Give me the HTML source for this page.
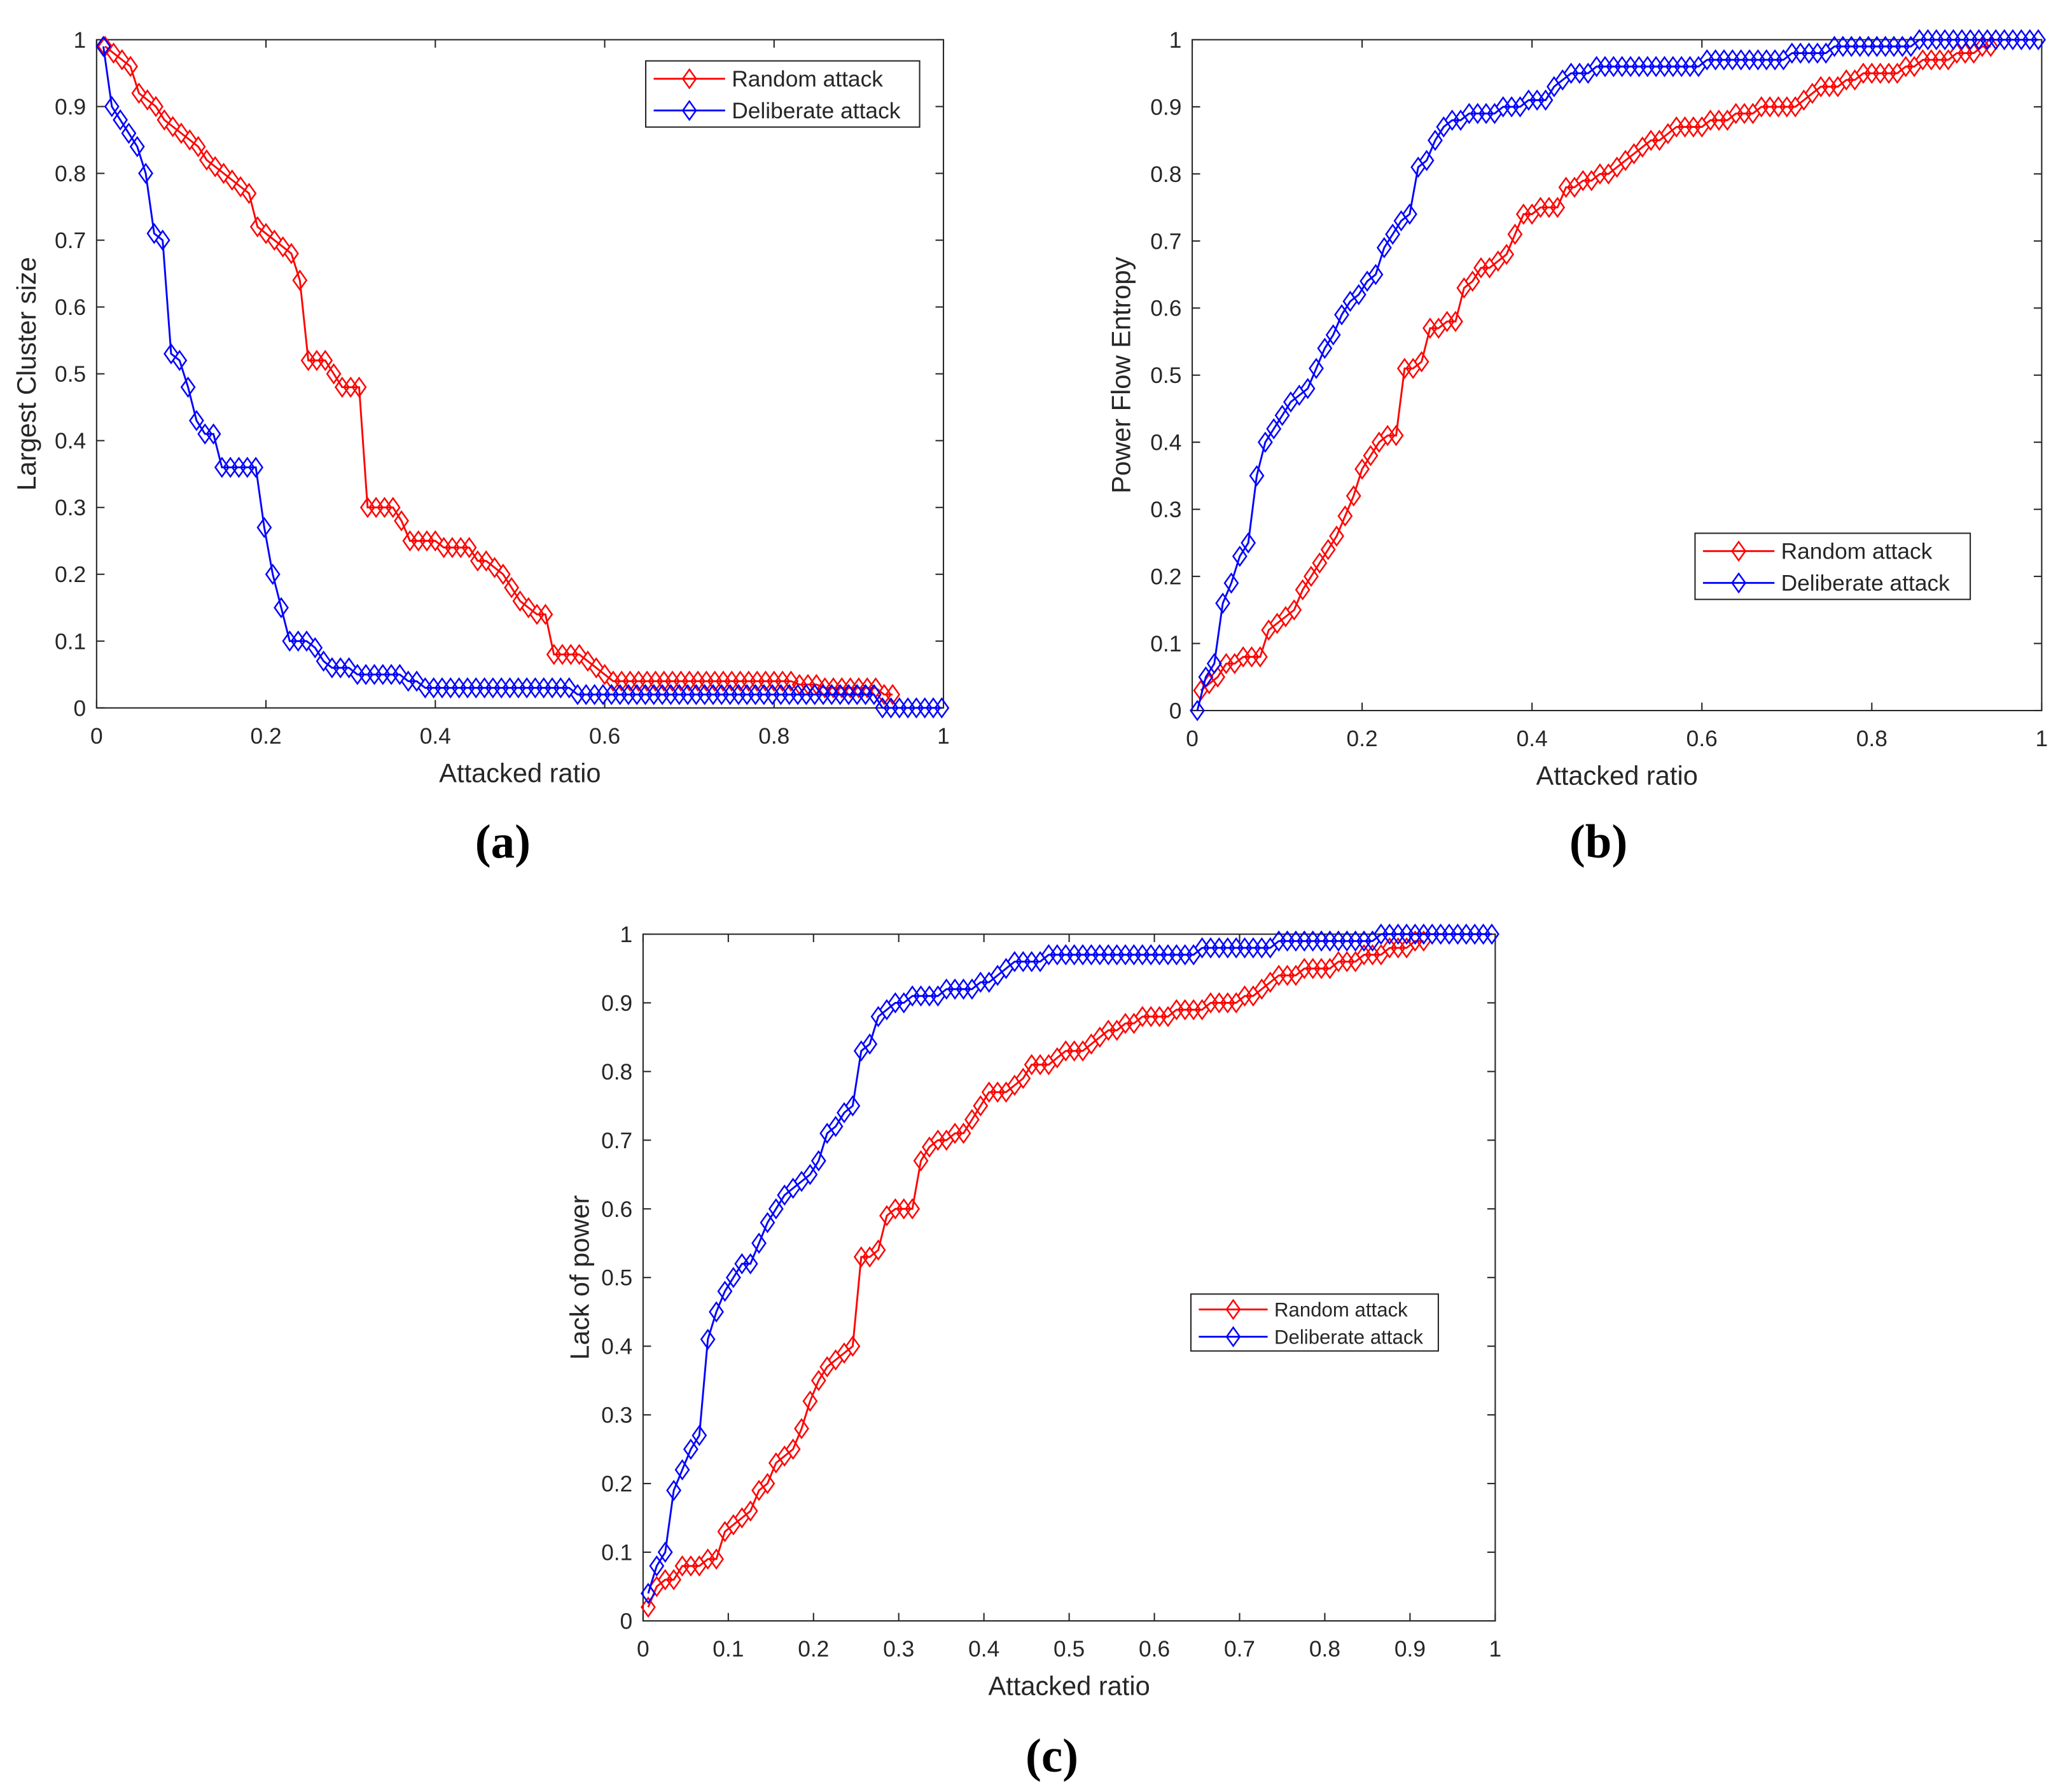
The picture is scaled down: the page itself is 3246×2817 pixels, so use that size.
<!DOCTYPE html>
<html><head><meta charset="utf-8"><style>
html,body{margin:0;padding:0;background:#fff;}
svg{display:block;font-family:"Liberation Sans",sans-serif;}
</style></head><body>
<svg id="fig" width="3246" height="2817" viewBox="0 0 1560.6 1354.3" xmlns="http://www.w3.org/2000/svg"></svg>
<script>
// ---- Data (y values at x = x0 + i*step) ----
const aRandom=[0.99,0.98,0.97,0.96,0.92,0.91,0.90,0.88,0.87,0.86,0.85,0.84,0.82,0.81,0.80,0.79,0.78,0.77,0.72,0.71,0.70,0.69,0.68,0.64,0.52,0.52,0.52,0.50,0.48,0.48,0.48,0.30,0.30,0.30,0.30,0.28,0.25,0.25,0.25,0.25,0.24,0.24,0.24,0.24,0.22,0.22,0.21,0.20,0.18,0.16,0.15,0.14,0.14,0.08,0.08,0.08,0.08,0.07,0.06,0.05,0.04,0.04,0.04,0.04,0.04,0.04,0.04,0.04,0.04,0.04,0.04,0.04,0.04,0.04,0.04,0.04,0.04,0.04,0.04,0.04,0.04,0.04,0.035,0.035,0.035,0.03,0.03,0.03,0.03,0.03,0.03,0.03,0.02,0.02];
const aDelib=[0.99,0.90,0.88,0.86,0.84,0.80,0.71,0.70,0.53,0.52,0.48,0.43,0.41,0.41,0.36,0.36,0.36,0.36,0.36,0.27,0.20,0.15,0.10,0.10,0.10,0.09,0.07,0.06,0.06,0.06,0.05,0.05,0.05,0.05,0.05,0.05,0.04,0.04,0.03,0.03,0.03,0.03,0.03,0.03,0.03,0.03,0.03,0.03,0.03,0.03,0.03,0.03,0.03,0.03,0.03,0.03,0.02,0.02,0.02,0.02,0.02,0.02,0.02,0.02,0.02,0.02,0.02,0.02,0.02,0.02,0.02,0.02,0.02,0.02,0.02,0.02,0.02,0.02,0.02,0.02,0.02,0.02,0.02,0.02,0.02,0.02,0.02,0.02,0.02,0.02,0.02,0.02,0,0,0,0,0,0,0,0];
const bRandom=[0.03,0.04,0.05,0.07,0.07,0.08,0.08,0.08,0.12,0.13,0.14,0.15,0.18,0.20,0.22,0.24,0.26,0.29,0.32,0.36,0.38,0.40,0.41,0.41,0.51,0.51,0.52,0.57,0.57,0.58,0.58,0.63,0.64,0.66,0.66,0.67,0.68,0.71,0.74,0.74,0.75,0.75,0.75,0.78,0.78,0.79,0.79,0.80,0.80,0.81,0.82,0.83,0.84,0.85,0.85,0.86,0.87,0.87,0.87,0.87,0.88,0.88,0.88,0.89,0.89,0.89,0.90,0.90,0.90,0.90,0.90,0.91,0.92,0.93,0.93,0.93,0.94,0.94,0.95,0.95,0.95,0.95,0.95,0.96,0.96,0.97,0.97,0.97,0.97,0.98,0.98,0.98,0.99,0.99];
const bDelib=[0,0.05,0.07,0.16,0.19,0.23,0.25,0.35,0.40,0.42,0.44,0.46,0.47,0.48,0.51,0.54,0.56,0.59,0.61,0.62,0.64,0.65,0.69,0.71,0.73,0.74,0.81,0.82,0.85,0.87,0.88,0.88,0.89,0.89,0.89,0.89,0.90,0.90,0.90,0.91,0.91,0.91,0.93,0.94,0.95,0.95,0.95,0.96,0.96,0.96,0.96,0.96,0.96,0.96,0.96,0.96,0.96,0.96,0.96,0.96,0.97,0.97,0.97,0.97,0.97,0.97,0.97,0.97,0.97,0.97,0.98,0.98,0.98,0.98,0.98,0.99,0.99,0.99,0.99,0.99,0.99,0.99,0.99,0.99,0.99,1.0,1.0,1.0,1.0,1.0,1.0,1.0,1.0,1.0,1.0,1.0,1.0,1.0,1.0,1.0];
const cRandom=[0.02,0.05,0.06,0.06,0.08,0.08,0.08,0.09,0.09,0.13,0.14,0.15,0.16,0.19,0.20,0.23,0.24,0.25,0.28,0.32,0.35,0.37,0.38,0.39,0.40,0.53,0.53,0.54,0.59,0.60,0.60,0.60,0.67,0.69,0.70,0.70,0.71,0.71,0.73,0.75,0.77,0.77,0.77,0.78,0.79,0.81,0.81,0.81,0.82,0.83,0.83,0.83,0.84,0.85,0.86,0.86,0.87,0.87,0.88,0.88,0.88,0.88,0.89,0.89,0.89,0.89,0.90,0.90,0.90,0.90,0.91,0.91,0.92,0.93,0.94,0.94,0.94,0.95,0.95,0.95,0.95,0.96,0.96,0.96,0.97,0.97,0.97,0.98,0.98,0.98,0.99,0.99];
const cDelib=[0.04,0.08,0.10,0.19,0.22,0.25,0.27,0.41,0.45,0.48,0.50,0.52,0.52,0.55,0.58,0.60,0.62,0.63,0.64,0.65,0.67,0.71,0.72,0.74,0.75,0.83,0.84,0.88,0.89,0.90,0.90,0.91,0.91,0.91,0.91,0.92,0.92,0.92,0.92,0.93,0.93,0.94,0.95,0.96,0.96,0.96,0.96,0.97,0.97,0.97,0.97,0.97,0.97,0.97,0.97,0.97,0.97,0.97,0.97,0.97,0.97,0.97,0.97,0.97,0.97,0.98,0.98,0.98,0.98,0.98,0.98,0.98,0.98,0.98,0.99,0.99,0.99,0.99,0.99,0.99,0.99,0.99,0.99,0.99,0.99,0.99,1.0,1.0,1.0,1.0,1.0,1.0,1.0,1.0,1.0,1.0,1.0,1.0,1.0,1.0];
const ticksFifth=["0","0.2","0.4","0.6","0.8","1"];
const ticksTenth=["0","0.1","0.2","0.3","0.4","0.5","0.6","0.7","0.8","0.9","1"];
const seriesNames=["Random attack","Deliberate attack"];

const NS="http://www.w3.org/2000/svg";
const svg=document.getElementById('fig');
function mk(tag,attrs,parent){const e=document.createElementNS(NS,tag);for(const k in attrs)e.setAttribute(k,attrs[k]);(parent||svg).appendChild(e);return e;}

function panel(c){
  const g=mk('g',{});
  
  
  const sx=v=>c.x0+v*(c.x1-c.x0), sy=v=>c.y1-v*(c.y1-c.y0);
  const box=mk('rect',{x:c.x0,y:c.y0,width:c.x1-c.x0,height:c.y1-c.y0,fill:'#fff',stroke:'#262626','stroke-width':1},g);
  
  
  c.xt.forEach((t,i)=>{const v=i/(c.xt.length-1),x=sx(v);
    mk('line',{x1:x,x2:x,y1:c.y1,y2:c.y1-6,stroke:'#262626'},g);
    mk('line',{x1:x,x2:x,y1:c.y0,y2:c.y0+6,stroke:'#262626'},g);
    const tx=mk('text',{x:x,y:c.y1+27,'text-anchor':'middle','font-size':17,fill:'#262626'},g);tx.textContent=t;
    
    });
  c.yt.forEach((t,i)=>{const v=i/(c.yt.length-1),y=sy(v);
    mk('line',{x1:c.x0,x2:c.x0+6,y1:y,y2:y,stroke:'#262626'},g);
    mk('line',{x1:c.x1,x2:c.x1-6,y1:y,y2:y,stroke:'#262626'},g);
    const tx=mk('text',{x:c.x0-8,y:y+6,'text-anchor':'end','font-size':17,fill:'#262626'},g);tx.textContent=t;
    
    });
  const xl=mk('text',{x:(c.x0+c.x1)/2,y:c.y1+56,'text-anchor':'middle','font-size':20,fill:'#262626'},g);xl.textContent='Attacked ratio';
  
  
  const yl=mk('text',{x:0,y:0,'text-anchor':'middle','font-size':20,fill:'#262626',transform:`translate(${c.ylx},${(c.y0+c.y1)/2}) rotate(-90)`},g);yl.textContent=c.ytitle;
  
  
  c.series.forEach(s=>{
    const pts=s.data.map((v,i)=>[sx(s.start+i*s.step),sy(v)]);
    const pl=mk('polyline',{points:pts.map(p=>p.join(',')).join(' '),fill:'none',stroke:s.color,'stroke-width':1.4},g);
    
    
    pts.forEach(p=>{const d=mk('path',{d:`M${p[0]},${p[1]-7}L${p[0]+5},${p[1]}L${p[0]},${p[1]+7}L${p[0]-5},${p[1]}Z`,fill:'none',stroke:s.color,'stroke-width':1.2},g);
      
      });
  });
  const L=c.leg, lg=mk('g',{},g);
  
  
  mk('rect',{x:L.x,y:L.y,width:L.w,height:L.h,fill:'#fff',stroke:'#262626'},lg);
  c.series.forEach((s,i)=>{const y=L.y+L.h*(0.27+0.48*i);
    mk('line',{x1:L.x+6,x2:L.x+L.lw,y1:y,y2:y,stroke:s.color,'stroke-width':1.4},lg);
    const cx=L.x+6+(L.lw-6)/2;
    mk('path',{d:`M${cx},${y-7}L${cx+5},${y}L${cx},${y+7}L${cx-5},${y}Z`,fill:'none',stroke:s.color,'stroke-width':1.2},lg);
    const t=mk('text',{x:L.x+L.lw+5,y:y+L.fs*0.35,'font-size':L.fs,fill:'#262626'},lg);t.textContent=seriesNames[i];
    
    });
  const pl=mk('text',{x:c.lab[0],y:c.lab[1],'text-anchor':'middle','font-size':36,'font-weight':'bold','font-family':'Liberation Serif, serif',fill:'#000'},g);
  pl.textContent=c.label;
  
  
}

panel({name:'panel-a',x0:73,x1:713,y0:30,y1:535,xt:ticksFifth,yt:ticksTenth,ylx:27,ytitle:'Largest Cluster size',label:'(a)',lab:[380,648],
  leg:{x:488,y:46,w:207,h:50,lw:60,fs:17},
  series:[{id:'random-attack',color:'#ff0000',data:aRandom,start:0.01,step:0.01},{id:'deliberate-attack',color:'#0000ff',data:aDelib,start:0.008,step:0.01}]});
panel({name:'panel-b',x0:901,x1:1543,y0:30,y1:537,xt:ticksFifth,yt:ticksTenth,ylx:854,ytitle:'Power Flow Entropy',label:'(b)',lab:[1208,648],
  leg:{x:1281,y:403,w:208,h:50,lw:60,fs:17},
  series:[{id:'random-attack',color:'#ff0000',data:bRandom,start:0.01,step:0.01},{id:'deliberate-attack',color:'#0000ff',data:bDelib,start:0.006,step:0.01}]});
panel({name:'panel-c',x0:486,x1:1130,y0:706,y1:1225,xt:ticksTenth,yt:ticksTenth,ylx:445,ytitle:'Lack of power',label:'(c)',lab:[795,1339],
  leg:{x:900,y:978,w:187,h:43,lw:58,fs:15},
  series:[{id:'random-attack',color:'#ff0000',data:cRandom,start:0.006,step:0.01},{id:'deliberate-attack',color:'#0000ff',data:cDelib,start:0.006,step:0.01}]});
</script>
</body></html>
